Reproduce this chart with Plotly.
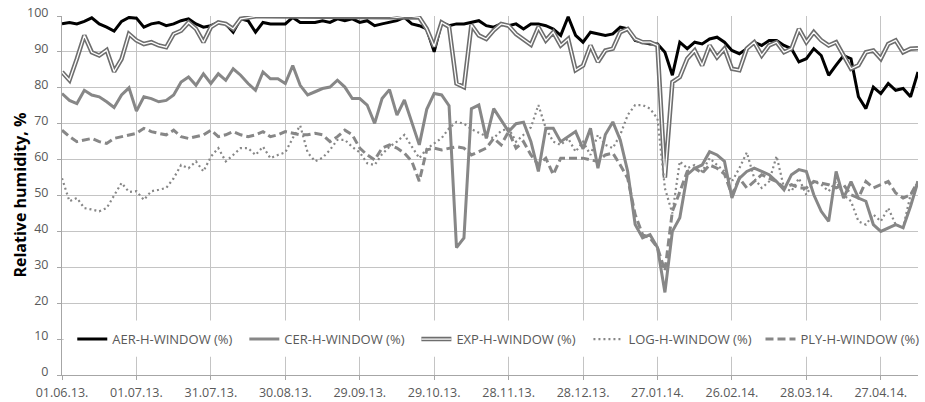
import pandas as pd
import plotly.graph_objects as go

# Dates: one sample every 3 days from 01.06.2013
dates = pd.date_range("2013-06-01", periods=116, freq="3D")

aer = [97.8, 98.2, 97.8, 98.5, 99.5, 97.8, 96.9, 95.8, 98.5, 99.6, 99.4, 96.9, 97.8, 98.2, 97.3, 97.8, 98.7, 99.2, 97.8, 96.9, 97.3, 98.2, 97.8, 95.5, 99.2, 98.7, 95.5, 98.2, 97.8,
       97.8, 97.8, 99.6, 98.2, 98.2, 98.2, 98.7, 98.2, 99.2, 98.7, 99.2, 98.2, 98.7, 97.3, 97.8, 98.2, 98.7, 99.6, 97.8, 97.3, 96.4, 90.0, 98.2, 97.3, 97.8, 97.8, 98.2, 98.7, 97.3,
       96.9, 97.8, 97.3, 97.8, 96.4, 97.8, 97.8, 97.3, 96.4, 94.6, 99.8, 94.6, 92.7, 95.5, 95.0, 94.6, 95.0, 96.9, 96.4, 93.2, 92.7, 92.2, 92.2, 89.9, 83.5, 92.7, 90.9, 92.7, 92.2,
       93.6, 94.1, 92.7, 90.4, 89.5, 90.9, 92.7, 91.8, 93.2, 93.2, 91.8, 90.9, 87.2, 88.1, 90.9, 89.0, 83.5, 86.3, 89.0, 88.1, 77.5, 74.2, 80.2, 78.4, 81.2, 79.3, 79.8, 77.5, 84.4]

cer = [78.4, 76.5, 75.6, 79.3, 78.0, 77.5, 76.1, 74.5, 78.0, 80.0, 73.5, 77.5, 77.0, 76.1, 76.5, 78.0, 81.6, 83.0, 80.7, 83.9, 81.2, 83.9, 82.1, 85.3, 83.5, 81.2, 79.3, 84.4, 82.5,
       82.5, 81.2, 86.2, 80.7, 78.0, 78.9, 79.8, 80.2, 82.1, 80.2, 77.0, 77.0, 75.2, 70.1, 77.0, 79.5, 72.4, 76.6, 70.5, 64.1, 74.0, 78.4, 78.0, 75.0, 35.5, 38.2, 74.2, 75.2, 65.9,
       74.2, 71.0, 67.8, 70.0, 70.4, 65.0, 56.7, 68.7, 68.7, 65.0, 66.5, 67.8, 63.0, 68.7, 57.6, 67.0, 70.5, 65.5, 56.7, 41.9, 38.2, 39.1, 35.5, 23.0, 40.0, 43.8, 55.8, 57.6, 58.5,
       62.2, 61.3, 59.5, 49.3, 54.8, 56.7, 57.6, 56.7, 55.8, 53.9, 51.6, 55.8, 57.2, 56.7, 50.2, 45.6, 42.8, 56.7, 49.3, 53.9, 49.3, 48.4, 41.9, 40.0, 41.0, 41.9, 41.0, 47.0, 53.9]

exp = [84.4, 82.1, 88.1, 94.6, 89.9, 89.0, 90.5, 84.5, 88.0, 95.0, 93.2, 92.2, 92.7, 91.8, 91.3, 95.0, 95.9, 98.2, 96.4, 92.7, 96.9, 98.2, 97.8, 96.4, 99.2, 99.6, 99.9, 99.9, 99.9,
       99.9, 99.9, 99.9, 99.7, 99.9, 99.9, 99.9, 99.9, 99.9, 99.9, 99.9, 99.9, 99.9, 99.9, 99.9, 99.9, 99.6, 99.9, 99.9, 99.6, 96.4, 91.5, 98.2, 97.0, 81.2, 80.2, 97.5, 94.6, 93.6,
       96.0, 97.8, 97.3, 95.0, 93.6, 92.0, 96.9, 93.2, 95.5, 91.8, 93.6, 84.9, 86.2, 91.8, 87.2, 90.4, 90.9, 95.5, 96.4, 93.6, 92.7, 92.7, 91.8, 55.0, 81.6, 83.0, 88.1, 90.4, 86.2,
       91.8, 88.5, 90.9, 85.3, 84.9, 90.9, 92.7, 89.0, 91.8, 92.7, 89.9, 90.9, 96.4, 92.7, 95.5, 93.2, 91.8, 92.7, 89.0, 85.3, 86.3, 89.9, 90.4, 88.1, 92.2, 93.2, 89.9, 90.9, 91.0]

log = [54.8, 48.4, 49.3, 46.5, 46.1, 45.6, 46.5, 50.2, 53.5, 51.0, 51.2, 48.8, 51.2, 51.6, 52.1, 54.8, 58.5, 57.6, 59.5, 56.7, 60.8, 63.2, 59.5, 61.3, 63.2, 63.2, 61.3, 63.6, 60.4,
       61.3, 62.0, 66.0, 69.5, 62.0, 59.5, 60.5, 62.7, 65.5, 65.5, 63.5, 62.0, 59.0, 58.5, 61.5, 63.6, 65.0, 66.9, 63.6, 60.4, 63.0, 64.5, 66.0, 68.7, 70.5, 70.0, 68.5, 67.5, 66.5,
       66.0, 68.0, 68.7, 65.0, 66.9, 69.0, 75.2, 68.7, 65.0, 64.1, 65.9, 62.2, 65.0, 61.3, 66.9, 64.1, 63.2, 66.9, 72.4, 75.2, 75.2, 74.2, 71.4, 52.0, 45.0, 59.5, 57.6, 58.5, 56.7,
       60.4, 58.5, 56.7, 53.9, 57.6, 62.0, 54.8, 52.1, 53.9, 61.0, 52.1, 51.2, 54.8, 50.2, 53.9, 53.0, 51.2, 53.9, 50.2, 48.4, 42.8, 41.9, 44.7, 42.8, 46.5, 41.9, 41.0, 50.2, 53.9]

ply = [68.2, 66.4, 65.0, 65.5, 65.9, 65.0, 64.5, 65.9, 66.4, 66.9, 67.3, 68.7, 67.8, 67.3, 66.9, 68.2, 66.4, 65.9, 66.4, 66.9, 68.2, 66.4, 66.9, 67.8, 66.9, 66.4, 66.9, 67.8, 66.4,
       66.9, 67.8, 67.3, 66.9, 66.9, 67.3, 66.9, 65.0, 66.4, 68.2, 66.9, 63.2, 61.3, 59.9, 63.2, 64.1, 63.2, 61.8, 59.5, 54.0, 62.7, 63.2, 62.7, 63.2, 63.6, 63.2, 61.3, 62.2, 63.2,
       65.9, 64.1, 67.8, 63.2, 65.0, 61.3, 58.5, 60.4, 55.8, 60.4, 60.4, 60.4, 60.4, 59.9, 59.5, 61.3, 61.8, 58.5, 54.8, 44.7, 39.1, 38.2, 35.5, 29.0, 45.6, 51.0, 56.7, 57.6, 56.2,
       58.5, 57.6, 56.0, 50.2, 54.8, 52.1, 53.9, 55.8, 54.8, 53.9, 52.1, 53.0, 52.1, 52.1, 53.9, 53.5, 53.0, 52.1, 53.0, 50.2, 49.3, 53.9, 52.1, 53.0, 53.9, 50.7, 49.3, 50.2, 53.9]

tick_dates = ["2013-06-01", "2013-07-01", "2013-07-31", "2013-08-30", "2013-09-29", "2013-10-29",
              "2013-11-28", "2013-12-28", "2014-01-27", "2014-02-26", "2014-03-28", "2014-04-27"]
tick_labels = ["01.06.13.", "01.07.13.", "31.07.13.", "30.08.13.", "29.09.13.", "29.10.13.",
               "28.11.13.", "28.12.13.", "27.01.14.", "26.02.14.", "28.03.14.", "27.04.14."]
series_names = ["AER-H-WINDOW (%)", "CER-H-WINDOW (%)", "EXP-H-WINDOW (%)",
                "LOG-H-WINDOW (%)", "PLY-H-WINDOW (%)"]

GRAY = "#878787"
FONT = "Open Sans"
TXT = "#595959"

fig = go.Figure()
fig.add_trace(go.Scatter(x=dates, y=aer, name=series_names[0], mode="lines", legend="legend",
                         line=dict(color="#000000", width=3)))
fig.add_trace(go.Scatter(x=dates, y=cer, name=series_names[1], mode="lines", legend="legend2",
                         line=dict(color=GRAY, width=3)))
fig.add_trace(go.Scatter(x=dates, y=exp, name=series_names[2], mode="lines", legend="legend3",
                         line=dict(color="#6e6e6e", width=4.5)))
fig.add_trace(go.Scatter(x=dates, y=exp, name=" ", mode="lines", legend="legend6",
                         hoverinfo="skip", line=dict(color="#ffffff", width=1.3)))
fig.add_trace(go.Scatter(x=dates, y=log, name=series_names[3], mode="lines", legend="legend4",
                         line=dict(color=GRAY, width=2.2, dash="2px,3px")))
fig.add_trace(go.Scatter(x=dates, y=ply, name=series_names[4], mode="lines", legend="legend5",
                         line=dict(color=GRAY, width=3, dash="8px,4px")))

# legend positions (paper x) for each entry
leg_x = [0.012, 0.213, 0.414, 0.615, 0.816]


def leg(x):
    return dict(orientation="h", x=x, xanchor="left", y=0.1, yanchor="middle",
                bgcolor="rgba(0,0,0,0)", font=dict(size=13, color=TXT, family=FONT))


fig.update_layout(
    width=925, height=402,
    margin=dict(l=62, r=7, t=16, b=27, autoexpand=False),
    paper_bgcolor="white", plot_bgcolor="white",
    font=dict(family=FONT, size=13, color=TXT),
    showlegend=True,
    legend=leg(leg_x[0]), legend2=leg(leg_x[1]), legend3=leg(leg_x[2]),
    legend4=leg(leg_x[3]), legend5=leg(leg_x[4]), legend6=leg(leg_x[2]),
    shapes=[dict(type="rect", xref="paper", yref="y", x0=0.002, x1=1, y0=5.1, y1=15.2,
                 fillcolor="white", line=dict(width=0), layer="above")],
    annotations=[dict(text="<b>Relative humidity, %</b>", xref="paper", yref="paper",
                      x=-0.0502, y=0.5, xanchor="center", yanchor="middle", textangle=-90,
                      showarrow=False, font=dict(size=16, color="#000000", family=FONT))],
)
fig.update_xaxes(type="date", range=["2013-06-01", "2014-05-12"],
                 tickvals=tick_dates, ticktext=tick_labels,
                 showgrid=True, gridcolor="#c4c4c4", gridwidth=1,
                 showline=True, linecolor="#a6a6a6", linewidth=1,
                 ticks="outside", ticklen=4, tickcolor="#a6a6a6",
                 ticklabelstandoff=2,
                 tickfont=dict(size=12.5, color=TXT), zeroline=False)
fig.update_yaxes(range=[0, 100], dtick=10, tick0=0,
                 showgrid=True, gridcolor="#c4c4c4", gridwidth=1,
                 showline=True, linecolor="#a6a6a6", linewidth=1,
                 ticks="outside", ticklen=4, tickcolor="#a6a6a6",
                 ticklabelstandoff=6, ticklabelshift=-3,
                 tickfont=dict(size=12.5, color=TXT), zeroline=False)

fig.write_html("out.html")
